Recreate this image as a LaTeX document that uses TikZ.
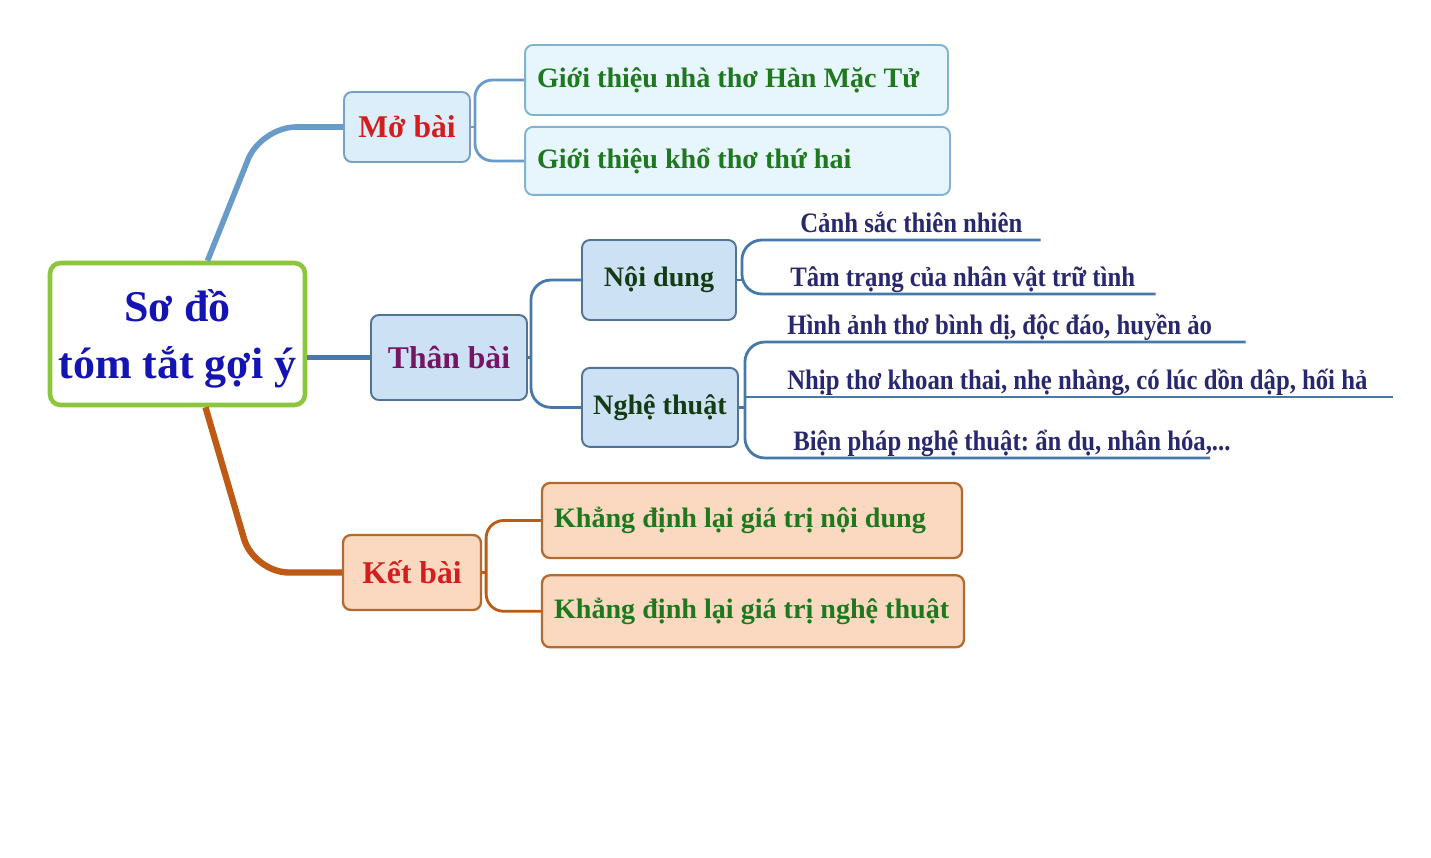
\documentclass[tikz,border=0pt]{standalone}
\usepackage{fontspec}
\setmainfont{Liberation Serif}
\newfontfamily\narrowserif{Liberation Serif}[FakeStretch=0.88]
\usetikzlibrary{positioning}
\usetikzlibrary{calc}
\usepackage{xcolor}
\definecolor{rootgreen} {RGB} {140,198,63}
\definecolor{rootblue}  {RGB} {20,20,180}
\definecolor{titlered}  {RGB} {210,30,30}
\definecolor{titlepurple}{RGB} {120,20,100}
\definecolor{leafgreen} {RGB} {30,120,30}
\definecolor{darkgreen} {RGB} {20,60,20}
\definecolor{leafnavy}  {RGB} {40,40,110}
\definecolor{mofill}    {RGB} {220,238,250}
\definecolor{moline}    {RGB} {120,160,195}
\definecolor{gtfill}    {RGB} {230,246,252}
\definecolor{gtline}    {RGB} {130,180,210}
\definecolor{thfill}    {RGB} {205,225,245}
\definecolor{thline}    {RGB} {80,115,150}
\definecolor{kbfill}    {RGB} {251,216,192}
\definecolor{kbline}    {RGB} {180,105,45}
\definecolor{brmoblue}  {RGB} {105,155,200}
\definecolor{brthblue}  {RGB} {70,120,170}
\definecolor{brkbbrown} {RGB} {190,90,20}

\tikzstyle{rootbox} = [rectangle,rounded corners=6pt,draw=rootgreen,line width=2.6pt,fill=white,
  minimum width=5.1cm,minimum height=2.84cm,align=flush center,text=rootblue,text depth=0pt,
  font=\bfseries\fontsize{25}{32}\selectfont]
\tikzstyle{X} = [rectangle,rounded corners=4.5pt,line width=1.1pt,inner sep=0pt]
\tikzstyle{mobox} = [X,draw=moline,fill=mofill]
\tikzstyle{gtbox} = [X,draw=gtline,fill=gtfill,align=flush left,inner xsep=0.24cm,text=leafgreen,
  font=\bfseries\fontsize{16}{19}\selectfont]
\tikzstyle{thbox} = [X,draw=thline,fill=thfill]
\tikzstyle{kbbox} = [X,draw=kbline,fill=kbfill,line width=1.3pt]
\tikzstyle{kdbox} = [kbbox,align=flush left,inner xsep=0.24cm,text=leafgreen,
  font=\bfseries\fontsize{16}{19}\selectfont]
\tikzstyle{title} = [font=\bfseries\fontsize{18}{21}\selectfont]
\tikzstyle{sub} = [text=darkgreen,font=\bfseries\fontsize{16}{19}\selectfont]
\tikzstyle{leaf} = [anchor=south west,inner xsep=0pt,inner ysep=4pt,text depth=0pt,align=flush left,
  text=leafnavy,font=\narrowserif\bfseries\fontsize{16}{19}\selectfont]
\tikzstyle{brmo} = [draw=brmoblue,line width=1.6pt,rounded corners=0.35cm]
\tikzstyle{brth} = [draw=brthblue,line width=1.6pt,rounded corners=0.4cm]
\tikzstyle{brkb} = [draw=brkbbrown,line width=1.6pt,rounded corners=0.35cm]

\begin{document}
\frenchspacing
\begin{tikzpicture}[x=0.02cm,y=-0.02cm]
  \useasboundingbox [fill=white] (0,0) rectangle (1431,858);

  % thick branches from the centre
  \node [rootbox] (root) at (177.5,334) {Sơ đồ\\tóm tắt gợi ý};

  \node [mobox,title,text=titlered,minimum width=2.52cm,minimum height=1.4cm] (mobai) at (407,127) {Mở bài};
  \node [thbox,title,text=titlepurple,minimum width=3.12cm,minimum height=1.7cm] (thanbai) at (449,357.5) {Thân bài};
  \node [kbbox,title,text=titlered,minimum width=2.76cm,minimum height=1.5cm] (ketbai) at (412,572.5) {Kết bài};

  \draw [brmo,line width=3.2pt,rounded corners=0.7cm] ($(root.north)+(30,0)$) -- ($(mobai.west)+(-82,0)$) -- (mobai.west);
  \draw [brth,line width=3pt] (root.east |- thanbai.west) -- (thanbai.west);
  \draw [brkb,line width=3.6pt,rounded corners=0.7cm] ($(root.south)+(28,0)$) -- ($(ketbai.west)+(-88,0)$) -- (ketbai.west);

  % Mo bai
  \node [gtbox,text width=7.98cm,minimum height=1.4cm] (gt1) at (736.5,80) {Giới thiệu nhà thơ Hàn Mặc Tử};
  \node [gtbox,text width=8.02cm,minimum height=1.36cm,below=0.2cm of gt1.south west,anchor=north west] (gt2) {Giới thiệu khổ thơ thứ hai};
  \coordinate (moj) at ($(mobai.east)+(4,0)$);
  \draw [brmo] (gt1.west) -| (moj |- gt2.west) -- (gt2.west);
  \draw [brmo] (mobai.east) -- (moj);

  % Than bai
  \node [thbox,sub,minimum width=3.08cm,minimum height=1.6cm] (noidung) at (659,280) {Nội dung};
  \node [thbox,sub,minimum width=3.12cm,minimum height=1.58cm,below=0.92cm of noidung.south west,anchor=north west] (nghethuat) {Nghệ thuật};
  \coordinate (thj) at ($(thanbai.east)+(3,0)$);
  \draw [brth] (noidung.west) -| (thj |- nghethuat.west) -- (nghethuat.west);
  \draw [brth] (thanbai.east) -- (thj);

  \node [leaf,text width=4.8cm] (c1) at (800,240) {Cảnh sắc thiên nhiên};
  \node [leaf,text width=7.3cm] (c2) at (790,294) {Tâm trạng của nhân vật trữ tình};
  \coordinate (ndj) at ($(noidung.east)+(5,0)$);
  \draw [brth] (c1.south east) -- (c1.south west) -| (ndj |- c2.south) -- (c2.south west) -- (c2.south east);
  \draw [brth] (noidung.east) -- (ndj);

  \node [leaf,text width=9.16cm] (h1) at (787,342) {Hình ảnh thơ bình dị, độc đáo, huyền ảo};
  \node [leaf,text width=12.1cm] (h2) at (787,397) {Nhịp thơ khoan thai, nhẹ nhàng, có lúc dồn dập, hối hả};
  \node [leaf,text width=9.4cm] (h3) at (793,458) {Biện pháp nghệ thuật: ẩn dụ, nhân hóa,...};
  \coordinate (ntj) at ($(nghethuat.east)+(6,0)$);
  \draw [brth] (h1.south east) -- (h1.south west) -| (ntj |- h3.south) -- (h3.south west) -- ++(417,0);
  \draw [brth] (nghethuat.east) -- (ntj);
  \draw [brth] (ntj |- h2.south) -- (h2.south west) -- (h2.south east);

  % Ket bai
  \node [kdbox,text width=7.92cm,minimum height=1.5cm] (kd1) at (752,520.5) {Khẳng định lại giá trị nội dung};
  \node [kdbox,text width=7.96cm,minimum height=1.44cm,below=0.3cm of kd1.south west,anchor=north west] (kd2) {Khẳng định lại giá trị nghệ thuật};
  \coordinate (kbj) at ($(ketbai.east)+(4,0)$);
  \draw [brkb] (kd1.west) -| (kbj |- kd2.west) -- (kd2.west);
  \draw [brkb] (ketbai.east) -- (kbj);
\end{tikzpicture}
\end{document}
